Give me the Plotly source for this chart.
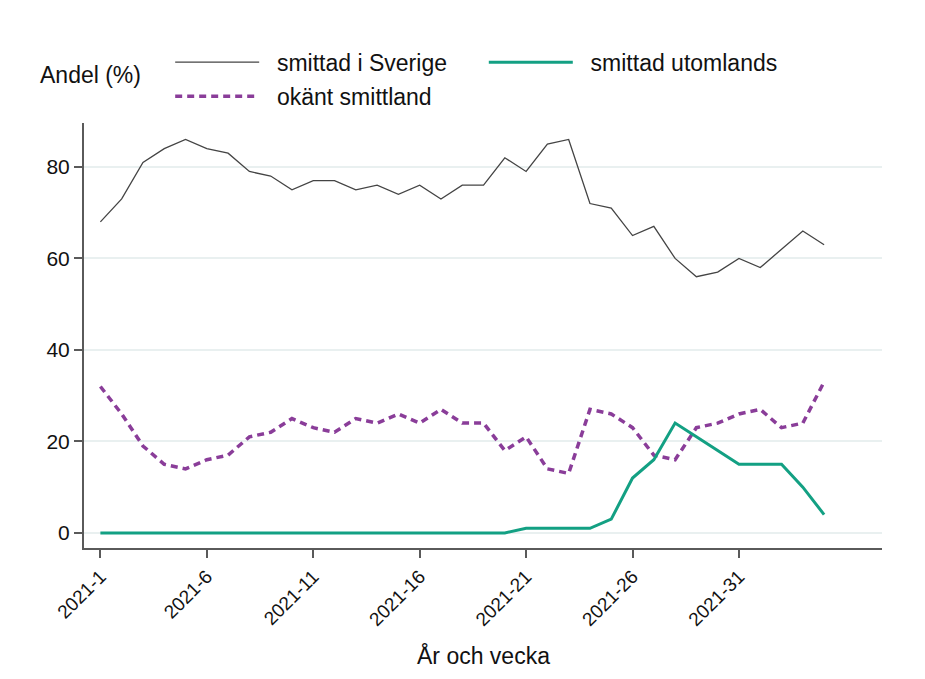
import plotly.graph_objects as go

# ── data ──────────────────────────────────────────────────────────────────────

weeks = list(range(1, 36))
week_labels = [f"2021-{w}" for w in weeks]
tick_weeks = ["2021-1", "2021-6", "2021-11", "2021-16", "2021-21", "2021-26", "2021-31"]

sverige = [68, 73, 81, 84, 86, 84, 83, 79, 78, 75, 77, 77, 75, 76, 74, 76, 73, 76,
           76, 82, 79, 85, 86, 72, 71, 65, 67, 60, 56, 57, 60, 58, 62, 66, 63]
utomlands = [0, 0, 0, 0, 0, 0, 0, 0, 0, 0, 0, 0, 0, 0, 0, 0, 0, 0,
             0, 0, 1, 1, 1, 1, 3, 12, 16, 24, 21, 18, 15, 15, 15, 10, 4]
okant = [32, 26, 19, 15, 14, 16, 17, 21, 22, 25, 23, 22, 25, 24, 26, 24, 27, 24,
         24, 18, 21, 14, 13, 27, 26, 23, 17, 16, 23, 24, 26, 27, 23, 24, 33]

# ── style ─────────────────────────────────────────────────────────────────────

FONT = "Liberation Sans, Arial, sans-serif"
GREY = "#444444"
GREEN = "#13a083"
PURPLE = "#8a3d99"
AXIS = "#5a5a5a"
PAD = "\u00a0\u00a0"   # extra gap between legend line and label

fig = go.Figure()
fig.add_trace(go.Scatter(x=week_labels, y=sverige, mode="lines", name=PAD + "smittad i Sverige",
                         line=dict(color=GREY, width=1.3), legend="legend", showlegend=True))
fig.add_trace(go.Scatter(x=week_labels, y=okant, mode="lines", name=PAD + "okänt smittland",
                         line=dict(color=PURPLE, width=3.5, dash="7px,5px"), legend="legend3",
                         showlegend=True))
fig.add_trace(go.Scatter(x=week_labels, y=utomlands, mode="lines", name=PAD + "smittad utomlands",
                         line=dict(color=GREEN, width=3), legend="legend2", showlegend=True))

leg = dict(xanchor="left", yanchor="middle", bgcolor="rgba(0,0,0,0)",
           font=dict(family=FONT, size=23, color="#111"), itemwidth=84, visible=True)

# the page body adds ~8px, so the plot area is shifted up/left by that much
fig.update_layout(
    width=925, height=679,
    margin=dict(l=76, r=51, t=115, b=139, autoexpand=False),
    showlegend=True,
    plot_bgcolor="white", paper_bgcolor="white",
    font=dict(family=FONT, color="#111"),
    legend=dict(x=0.108, y=1.143, **leg),
    legend2=dict(x=0.501, y=1.143, **leg),
    legend3=dict(x=0.108, y=1.063, **leg),
    xaxis=dict(type="category", range=[-0.77, 36.72], tickmode="array",
               tickvals=tick_weeks, ticktext=tick_weeks, tickangle=-45,
               showline=True, linecolor=AXIS, linewidth=2,
               ticks="outside", ticklen=8, tickwidth=2, tickcolor=AXIS,
               showgrid=False, tickfont=dict(size=19, family=FONT, color="#111")),
    yaxis=dict(range=[-3.3, 89.6], tickvals=[0, 20, 40, 60, 80],
               showline=True, linecolor=AXIS, linewidth=2,
               ticks="outside", ticklen=8, tickwidth=2, tickcolor=AXIS,
               showgrid=True, gridcolor="#e9f0f0", gridwidth=1.5, zeroline=False,
               tickfont=dict(size=21, family=FONT, color="#111")),
)

fig.add_annotation(text="Andel (%)", xref="paper", yref="paper", x=-0.058, y=1.113,
                   xanchor="left", yanchor="middle", showarrow=False,
                   font=dict(family=FONT, size=23, color="#111"))
fig.add_annotation(text="År och vecka", xref="paper", yref="paper", x=0.5, y=-0.252,
                   xanchor="center", yanchor="middle", showarrow=False,
                   font=dict(family=FONT, size=23, color="#111"))

fig.write_html("out.html")
